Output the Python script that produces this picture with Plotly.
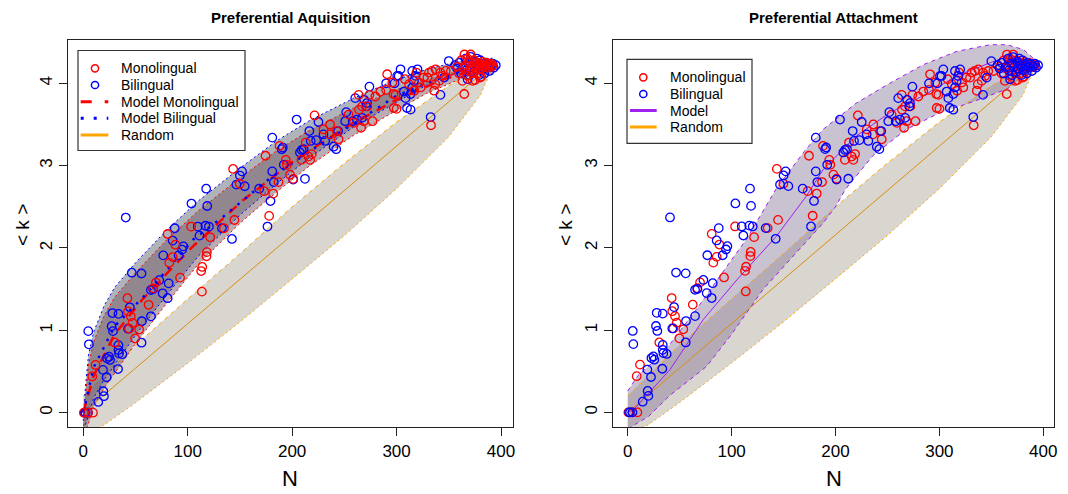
import plotly.graph_objects as go

# ---------------- data ----------------
mono_x = [0.6, 4.5, 9.3, 8.6, 11.8, 30.4, 42.3, 42.9, 45.5, 47.2, 43.9, 49.7, 53.5, 62.6, 67, 69.6,
          80.8, 82.4, 85.6, 88.2, 92.7, 103.3, 112.9, 113.9, 118, 118.4, 121.6, 113.6, 134.7, 144.7,
          143.5, 149.8, 173.2, 174.5, 178, 181.9, 187, 188, 194, 195, 198, 201, 209, 213, 215.6,
          217.2, 218.8, 221.5, 230, 236, 236.4, 242.8, 244.5, 254, 259, 263.7, 264, 266, 267, 268.5,
          272, 274, 277, 279.7, 284.5, 290, 291, 296, 297, 297.4, 300, 299, 308, 312, 317, 319,
          321.5, 323, 326, 329.5, 331, 333, 334, 336, 337, 337.4, 340.7, 342, 344, 347, 352, 363,
          364.8, 368, 372.8, 381,
          358, 360, 362, 364, 365, 366, 368, 369, 370, 371, 372, 373, 374, 375, 376, 377, 378, 379,
          380, 381, 382, 383, 384, 385, 386, 387, 388, 389, 390, 391, 392, 380, 378, 375]
mono_y = [0, 0, 0, 0.44, 0.58, 0.85, 1.39, 1.23, 1.17, 1.09, 1.02, 0.90, 1.01, 1.31, 1.51, 1.58,
          2.17, 1.82, 1.89, 2.04, 1.64, 2.26, 1.72, 1.77, 1.90, 1.95, 2.13, 1.47, 2.24, 2.34,
          2.96, 2.78, 2.69, 3.12, 2.39, 2.66, 2.80, 3.24, 3.07, 3.01, 2.89, 2.84, 3.07, 3.28, 3.11,
          3.07, 3.14, 3.61, 3.44, 3.38, 3.50, 3.42, 3.32, 3.62, 3.52, 3.86, 3.68, 3.46, 3.72, 3.54,
          3.72, 3.86, 3.54, 3.84, 3.90, 3.92, 4.11, 4.01, 3.87, 3.70, 3.69, 3.86, 4.05, 3.99, 3.91, 4.13,
          4.01, 3.95, 4.07, 4.07, 4.13, 3.49, 4.15, 3.91, 3.99, 4.17, 4.03, 4.13, 4.09, 4.15, 4.15, 4.03,
          3.87, 4.09, 4.03, 4.08,
          4.20, 4.12, 4.28, 4.18, 4.35, 4.22, 4.30, 4.15, 4.25, 4.35, 4.20, 4.12, 4.28, 4.22, 4.18, 4.25, 4.20, 4.24,
          4.22, 4.18, 4.26, 4.20, 4.23, 4.21, 4.25, 4.19, 4.23, 4.22, 4.24, 4.20, 4.22, 4.07, 4.12, 4.04]

bi_x = [1.3, 4.5, 2.2, 14.4, 19.8, 19.2, 22.4, 33.3, 18.9, 24.7, 25.6, 22.8, 33.7, 34.3, 37.5, 33.7,
        4.8, 5.4, 55.8, 27.2, 28.5, 42.9, 44.6, 56.1, 64.8, 27.9, 33.7, 40.7, 46.5, 55.8, 64.8, 67,
        72.8, 76, 80.8, 81.8, 76.6, 85.6, 87.6, 91.4, 94.6, 95.9, 103.6, 118.7, 117.7, 111.3, 109.7,
        117, 120.3, 132.8, 142.4, 146.6, 150, 152, 154.6, 168.4, 176.4, 179.3, 181, 182.5, 181, 190,
        191, 192, 201, 204.3, 207.5, 209.2, 211, 212.3, 216.5, 217.8, 223, 225.2, 230, 231.6, 239.7,
        242.2, 244, 250.8, 251.8, 258, 260.4, 262, 267, 274, 269, 271.7, 271, 290, 300.6, 298,
        303.8, 302, 307, 308.6, 310, 313.4, 313.4, 315, 316.6, 318, 315, 320, 332.6, 342, 345.5, 350,
        356, 358, 360, 362, 364, 366, 367, 369, 370, 371, 372, 374, 375, 376, 378, 379, 380, 381,
        383, 384, 385, 386, 388, 389, 390, 392, 393, 395, 368, 377]
bi_y = [0, 0, 0, 0.13, 0.20, 0.26, 0.43, 0.53, 0.52, 0.68, 0.64, 0.66, 0.76, 0.72, 0.71, 0.82,
        0.99, 0.83, 0.85, 1.05, 0.99, 1.02, 1.28, 1.11, 1.17, 1.21, 1.20, 2.37, 1.70, 1.69, 1.49, 1.50,
        1.61, 1.45, 1.39, 1.57, 1.91, 2.09, 2.24, 1.91, 1.98, 2.02, 2.54, 2.51, 2.72, 2.15, 2.26,
        2.27, 2.26, 2.24, 2.11, 2.77, 2.88, 2.93, 2.75, 2.72, 2.26, 2.57, 2.93, 2.80, 3.34, 3.20,
        3.22, 3.01, 2.83, 3.56, 3.16, 3.19, 3.20, 2.84, 3.42, 3.30, 3.31, 3.53, 3.38, 3.30, 3.23,
        3.20, 3.42, 3.54, 3.65, 3.54, 3.82, 3.56, 3.58, 3.96, 3.80, 3.76, 3.72, 4.00, 4.09, 4.00,
        4.17, 4.09, 3.90, 3.82, 3.70, 3.68, 3.87, 3.95, 4.03, 4.09, 4.15, 4.17, 3.59, 3.86, 4.07, 4.27,
        4.22, 4.18, 4.25, 4.12, 4.20, 4.30, 4.16, 4.24, 4.10, 4.32, 4.20, 4.14, 4.26, 4.18, 4.22, 4.10, 4.28, 4.16,
        4.22, 4.12, 4.25, 4.19, 4.23, 4.15, 4.21, 4.24, 4.19, 4.22, 4.05, 4.30]

# random-network expectation (both panels)
rand_x = [0, 20, 50, 100, 150, 200, 250, 300, 350, 380, 393]
rand_mean = [0, 0.22, 0.54, 1.08, 1.62, 2.16, 2.70, 3.24, 3.78, 4.10, 4.22]
rand_up = [0.2, 0.45, 0.82, 1.38, 1.93, 2.50, 3.03, 3.53, 3.97, 4.17, 4.22]
rand_lo = [-0.25, -0.15, 0.12, 0.60, 1.10, 1.62, 2.15, 2.72, 3.35, 3.85, 4.22]

# preferential acquisition model (left panel)
pa_x = [0, 2, 5, 10, 20, 30, 50, 80, 110, 150, 185, 217, 259, 297, 329, 361, 392]
pa_up = [-0.1, 0.3, 0.7, 0.98, 1.3, 1.52, 1.82, 2.22, 2.57, 2.97, 3.3, 3.55, 3.82, 4.03, 4.17, 4.27, 4.23]
pa_lo = [-0.3, -0.25, -0.13, 0.08, 0.3, 0.48, 0.84, 1.33, 1.8, 2.3, 2.68, 3.0, 3.37, 3.65, 3.88, 4.05, 4.21]
mono_mod_x = [0, 10, 30, 57, 77, 105, 153, 201, 249, 297, 345, 392]
mono_mod_y = [0, 0.45, 0.95, 1.38, 1.65, 2.02, 2.58, 3.05, 3.45, 3.78, 4.05, 4.22]
bi_mod_x = [0, 10, 30, 61, 105, 134, 179, 220, 265, 300, 345, 392]
bi_mod_y = [0, 0.55, 1.05, 1.45, 2.1, 2.38, 2.85, 3.2, 3.56, 3.85, 4.08, 4.23]

# preferential attachment model (right panel)
att_up_x = [0, 10, 34, 66, 94, 114, 143, 171, 188, 220, 252, 285, 317, 349, 365, 381, 396]
att_up = [0.26, 0.45, 0.72, 1.25, 1.75, 2.1, 2.72, 3.19, 3.44, 3.76, 4.0, 4.23, 4.39, 4.47, 4.47, 4.41, 4.24]
att_lo_x = [0, 20, 40, 76, 100, 130, 160, 188, 200, 210, 236, 268, 300, 333, 365, 396]
att_lo = [-0.2, -0.05, 0.2, 0.56, 0.95, 1.49, 1.91, 2.3, 2.5, 2.72, 3.12, 3.44, 3.64, 3.78, 3.93, 4.2]
att_mod_x = [0, 5.4, 40.7, 72.8, 105, 143, 172, 188, 220, 252, 284.5, 316.6, 348.7, 368, 396]
att_mod_y = [0, 0.03, 0.52, 1.13, 1.61, 2.14, 2.63, 2.95, 3.36, 3.64, 3.85, 4.09, 4.25, 4.34, 4.23]

# legend texts
legend_left = ["Monolingual", "Bilingual", "Model Monolingual", "Model Bilingual", "Random"]
legend_right = ["Monolingual", "Bilingual", "Model", "Random"]

# ---------------- styles ----------------
RED, BLUE, ORANGE, PURPLE = "#FF0000", "#0000FF", "#FFA500", "#A020F0"
FONT = "Arial, Liberation Sans, Helvetica, sans-serif"
W, H = 1068, 494
OFF = 8  # the page body has an 8px margin; positions below are page pixels

fig = go.Figure()


def band(xu, up, xl, lo, fill, xa, ya):
    fig.add_trace(go.Scatter(x=list(xu) + list(xl)[::-1], y=list(up) + list(lo)[::-1],
                             fill="toself", fillcolor=fill, mode="none", hoverinfo="skip",
                             showlegend=False, xaxis=xa, yaxis=ya))


def edge(xs, ys, color, dash, xa, ya, width=1):
    fig.add_trace(go.Scatter(x=xs, y=ys, mode="lines", line=dict(color=color, width=width, dash=dash),
                             hoverinfo="skip", showlegend=False, xaxis=xa, yaxis=ya))


def points(xs, ys, color, xa, ya):
    fig.add_trace(go.Scatter(x=xs, y=ys, mode="markers", showlegend=False, hoverinfo="skip",
                             marker=dict(symbol="circle-open", size=8.5, color=color, line=dict(width=1.3)),
                             xaxis=xa, yaxis=ya))


# ---- left panel ----
band(rand_x, rand_up, rand_x, rand_lo, "rgba(185,178,168,0.55)", "x", "y")
edge(rand_x, rand_up, ORANGE, "4px,4px", "x", "y")
edge(rand_x, rand_lo, ORANGE, "2px,3px", "x", "y")
edge(rand_x, rand_mean, "#DC8C10", "solid", "x", "y")

bi_lo = [v + 0.1 for v in pa_lo]
mono_up = [v - 0.12 for v in pa_up]
band(pa_x, pa_up, pa_x, bi_lo, "rgba(95,105,118,0.5)", "x", "y")
band(pa_x, mono_up, pa_x, pa_lo, "rgba(118,90,100,0.5)", "x", "y")
edge(pa_x, pa_up, BLUE, "2px,3px", "x", "y")
edge(pa_x, bi_lo, BLUE, "2px,3px", "x", "y")
edge(pa_x, mono_up, RED, "2px,3px", "x", "y")
edge(pa_x, pa_lo, RED, "2px,3px", "x", "y")
edge(mono_mod_x, mono_mod_y, RED, "10px,8px", "x", "y", width=2.5)
edge(bi_mod_x, bi_mod_y, BLUE, "2.5px,7px", "x", "y", width=2.5)
points(bi_x, bi_y, BLUE, "x", "y")
points(mono_x, mono_y, RED, "x", "y")

# ---- right panel ----
band(rand_x, rand_up, rand_x, rand_lo, "rgba(185,178,168,0.55)", "x2", "y2")
band(att_up_x, att_up, att_lo_x, att_lo, "rgba(135,120,152,0.45)", "x2", "y2")
edge(rand_x, rand_up, ORANGE, "4px,4px", "x2", "y2")
edge(rand_x, rand_lo, ORANGE, "2px,3px", "x2", "y2")
edge(rand_x, rand_mean, "#DC8C10", "solid", "x2", "y2")
edge(att_up_x, att_up, PURPLE, "4px,4px", "x2", "y2")
edge(att_lo_x, att_lo, PURPLE, "4px,4px", "x2", "y2")
edge(att_mod_x, att_mod_y, PURPLE, "solid", "x2", "y2")
points(mono_x, mono_y, RED, "x2", "y2")
points(bi_x, bi_y, BLUE, "x2", "y2")

# ---------------- layout ----------------
axis_common = dict(showgrid=False, zeroline=False, showline=True, mirror=True, linecolor="#222",
                   linewidth=1.2, ticks="outside", ticklen=8, tickcolor="#222", tickwidth=1.2,
                   automargin=False, tickfont=dict(size=17, color="black", family=FONT))


def px(x):
    return (x - OFF) / W


def py(y):
    return 1 - (y - OFF) / H


ydom = [py(427), py(40)]
shapes = []
ann = []


def legend_box(x0, y0, x1, y1, labels, rows, sym_x, line_x0, line_x1, text_x, kinds):
    shapes.append(dict(type="rect", xref="paper", yref="paper", x0=px(x0), x1=px(x1), y0=py(y0), y1=py(y1),
                       fillcolor="white", line=dict(color="#333", width=1.2), layer="above"))
    for lab, ry, (kind, color, dash) in zip(labels, rows, kinds):
        if kind == "marker":
            shapes.append(dict(type="circle", xref="paper", yref="paper", xsizemode="pixel", ysizemode="pixel",
                               xanchor=px(sym_x), yanchor=py(ry), x0=-3.6, x1=3.6, y0=-3.6, y1=3.6,
                               line=dict(color=color, width=1.5), layer="above"))
        else:
            shapes.append(dict(type="line", xref="paper", yref="paper", x0=px(line_x0), x1=px(line_x1),
                               y0=py(ry), y1=py(ry), line=dict(color=color, width=3, dash=dash), layer="above"))
        ann.append(dict(text=lab, x=px(text_x), y=py(ry), xref="paper", yref="paper", xanchor="left",
                        yanchor="middle", showarrow=False, font=dict(size=14, family=FONT, color="black")))


legend_box(78, 50.5, 245, 150.5, legend_left, [68.3, 85, 101.7, 118.3, 135], 95, 80.7, 108.3, 119,
           [("marker", RED, None), ("marker", BLUE, None), ("line", RED, "11px,13px"),
            ("line", BLUE, "3px,10px"), ("line", ORANGE, "solid")])
legend_box(627, 59.3, 752, 143.3, legend_right, [77.3, 94, 110.5, 127], 643.3, 630, 656.7, 668,
           [("marker", RED, None), ("marker", BLUE, None), ("line", PURPLE, "solid"),
            ("line", ORANGE, "solid")])

titles = [
    dict(text="<b>Preferential Aquisition</b>", x=0.5, xref="x domain", y=py(17.5), yref="paper", size=15),
    dict(text="<b>Preferential Attachment</b>", x=0.5, xref="x2 domain", y=py(17.5), yref="paper", size=15),
    dict(text="N", x=0.5, xref="x domain", y=py(478), yref="paper", size=22),
    dict(text="N", x=0.5, xref="x2 domain", y=py(478), yref="paper", size=22),
]
for t in titles:
    size = t.pop("size")
    t.update(showarrow=False, xanchor="center", yanchor="middle",
             font=dict(size=size, family=FONT, color="black"))
    ann.append(t)
for xx in (22, 565):
    ann.append(dict(text="&lt; k &gt;", x=px(xx), xref="paper", y=py(225), yref="paper", textangle=-90,
                    showarrow=False, xanchor="center", yanchor="middle",
                    font=dict(size=19, family=FONT, color="black")))

fig.update_layout(
    width=W, height=H, margin=dict(l=0, r=0, t=0, b=0, autoexpand=False),
    paper_bgcolor="white", plot_bgcolor="white", font=dict(family=FONT, color="black"),
    showlegend=False,
    xaxis=dict(domain=[px(68), px(512.5)], range=[-14.6, 411], tickvals=[0, 100, 200, 300, 400],
               anchor="y", **axis_common),
    yaxis=dict(domain=ydom, range=[-0.174, 4.526], tickvals=[0, 1, 2, 3, 4], tickangle=-90,
               anchor="x", **axis_common),
    xaxis2=dict(domain=[px(613.3), px(1054.3)], range=[-13.9, 410.6], tickvals=[0, 100, 200, 300, 400],
                anchor="y2", **axis_common),
    yaxis2=dict(domain=ydom, range=[-0.178, 4.527], tickvals=[0, 1, 2, 3, 4], tickangle=-90,
                anchor="x2", **axis_common),
    shapes=shapes,
    annotations=ann,
)

fig.write_html("out.html")
